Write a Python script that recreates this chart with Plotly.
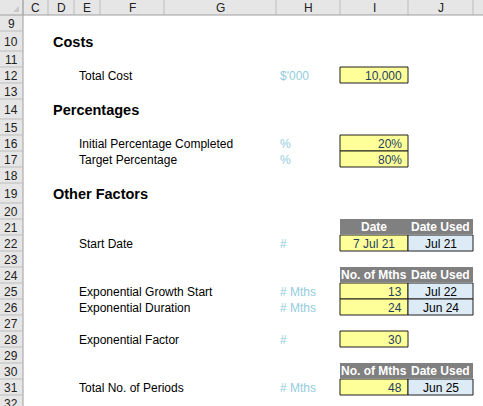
import plotly.graph_objects as go

# ---- data ----
col_names = ["C", "D", "E", "F", "G", "H", "I", "J"]
col_edges = [23, 48, 74, 100, 164, 276, 340, 408, 473]
row_nums = list(range(9, 33))
tall_rows = [10, 14, 19]

headings = {10: "Costs", 14: "Percentages", 19: "Other Factors"}
labels = {12: "Total Cost", 16: "Initial Percentage Completed", 17: "Target Percentage",
          22: "Start Date", 25: "Exponential Growth Start", 26: "Exponential Duration",
          28: "Exponential Factor", 31: "Total No. of Periods"}
units = {12: "$'000", 16: "%", 17: "%", 22: "#", 25: "# Mths", 26: "# Mths", 28: "#", 31: "# Mths"}
input_values = {12: "10,000", 16: "20%", 17: "80%", 22: "7 Jul 21", 25: "13", 26: "24", 28: "30", 31: "48"}
date_used = {22: "Jul 21", 25: "Jul 22", 26: "Jun 24", 31: "Jun 25"}
table_headers = {21: ("Date", "Date Used"), 24: ("No. of Mths", "Date Used"), 30: ("No. of Mths", "Date Used")}

W, H = 483, 406
HDR = 15
FONT = "Liberation Sans, Arial, sans-serif"

row_top = {}
y = HDR
for r in row_nums:
    h = 20 if r in tall_rows else 16
    row_top[r] = (y, y + h)
    y += h

shapes, ann = [], []

def rect(x0, x1, y0, y1, fill, line=None, lw=1):
    shapes.append(dict(type="rect", x0=x0, x1=x1, y0=y0, y1=y1, fillcolor=fill,
                       line=dict(color=line or fill, width=lw if line else 0), layer="below"))

def text(x, y, s, anchor="left", color="#000", size=12, bold=False):
    ann.append(dict(x=x, y=y, text=f"<b>{s}</b>" if bold else s, showarrow=False,
                    xanchor=anchor, yanchor="middle", font=dict(family=FONT, size=size, color=color)))

rect(0, W, 0, HDR, "#E6E6E6")
rect(0, col_edges[0], 0, H, "#E6E6E6")
for i, c in enumerate(col_names):
    x0, x1 = col_edges[i], col_edges[i + 1]
    text((x0 + x1) / 2, HDR / 2 + 0.5, c, "center", "#222", 12)
for x in col_edges:
    shapes.append(dict(type="line", x0=x, x1=x, y0=0, y1=HDR, line=dict(color="#BDBDBD", width=1)))
shapes.append(dict(type="line", x0=0, x1=W, y0=HDR, y1=HDR, line=dict(color="#9E9E9E", width=1)))
shapes.append(dict(type="line", x0=col_edges[0], x1=col_edges[0], y0=0, y1=H, line=dict(color="#9E9E9E", width=1)))
shapes.append(dict(type="path", path="M 13 12 L 19 12 L 19 6 Z", fillcolor="#C8C8C8", line=dict(width=0)))
for r in row_nums:
    y0, y1 = row_top[r]
    shapes.append(dict(type="line", x0=0, x1=col_edges[0], y0=y1, y1=y1, line=dict(color="#BDBDBD", width=1)))
    text(col_edges[0] / 2 - 0.5, (y0 + y1) / 2 + 1, str(r), "center", "#222", 12)

cI0, cI1, cJ0, cJ1 = col_edges[6], col_edges[7], col_edges[7], col_edges[8]
for r, s in headings.items():
    y0, y1 = row_top[r]
    text(51, (y0 + y1) / 2 + 1, s, "left", "#000", 14.5, True)
for r, s in labels.items():
    y0, y1 = row_top[r]
    text(77, (y0 + y1) / 2 + 1, s)
for r, s in units.items():
    y0, y1 = row_top[r]
    text(278, (y0 + y1) / 2 + 1, s, "left", "#92CDDC")
for r, s in input_values.items():
    y0, y1 = row_top[r]
    rect(cI0, cI1, y0, y1, "#FFFF99", "#1F1F1F", 1)
    if r == 22:
        text((cI0 + cI1) / 2, (y0 + y1) / 2 + 1, s, "center", "#1F3F5F")
    else:
        text(cI1 - 4, (y0 + y1) / 2 + 1, s, "right", "#1F3F5F")
for r, s in date_used.items():
    y0, y1 = row_top[r]
    rect(cJ0, cJ1, y0, y1, "#DDEBF7", "#1F1F1F", 1)
    text((cJ0 + cJ1) / 2, (y0 + y1) / 2 + 1, s, "center")
for r, (a, b) in table_headers.items():
    y0, y1 = row_top[r]
    rect(cI0, cJ1, y0, y1 - 1, "#808080")
    text((cI0 + cI1) / 2, (y0 + y1) / 2, a, "center", "#FFFFFF", 12, True)
    text((cJ0 + cJ1) / 2, (y0 + y1) / 2, b, "center", "#FFFFFF", 12, True)

fig = go.Figure()
fig.update_layout(width=W, height=H, margin=dict(l=0, r=0, t=0, b=0),
                  paper_bgcolor="#FFFFFF", plot_bgcolor="#FFFFFF",
                  xaxis=dict(range=[0, W], visible=False, fixedrange=True),
                  yaxis=dict(range=[H, 0], visible=False, fixedrange=True),
                  shapes=shapes, annotations=ann, showlegend=False)
fig.write_html("out.html", config={"displayModeBar": False},
               post_script="document.body.style.margin='0';document.body.style.overflow='hidden';")
